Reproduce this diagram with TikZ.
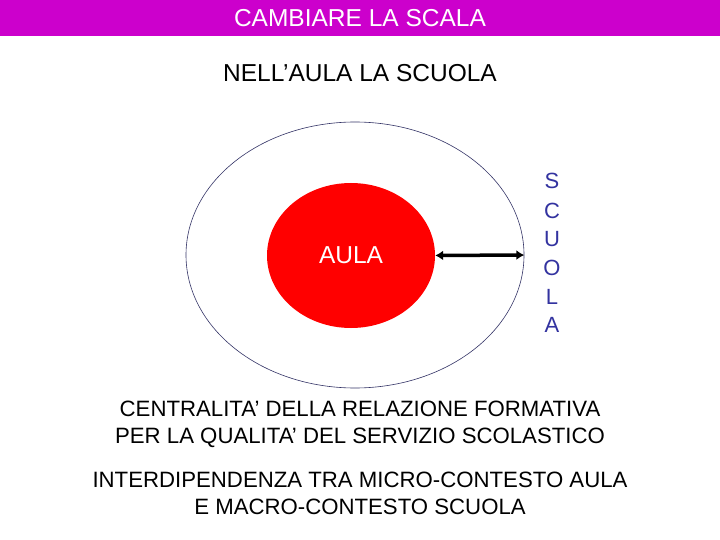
\documentclass[tikz,border=0pt]{standalone}
\usepackage{fontspec}
\setmainfont{Liberation Sans}
\usetikzlibrary{arrows.meta,shapes.geometric}
\definecolor{barpurple}{HTML}{CC00CC}
\definecolor{scuolablue}{HTML}{3333A0}
\definecolor{ringblue}{HTML}{333366}
\begin{document}
\begin{tikzpicture}[x=1pt,y=-1pt,
  txt/.style={font=\fontsize{22.2}{27}\selectfont, align=center, inner sep=0pt},
  big/.style={font=\fontsize{24.5}{27}\selectfont, align=center, inner sep=0pt},
  letter/.style={font=\fontsize{22}{22}\selectfont, text=scuolablue, inner sep=0pt}]
\useasboundingbox (0,0) rectangle (720,540);
\fill[white] (0,0) rectangle (720,540);
\fill[barpurple] (0,0) rectangle (720,36);
\node[big, text=white] (title) at (360,18) {CAMBIARE LA SCALA};
\node[big] (sub) at (360,73) {NELL’AULA LA SCUOLA};
\node[ellipse, draw=ringblue, line width=0.6pt, minimum width=338pt, minimum height=266pt, inner sep=0pt] (outer) at (355,255) {};
\node[ellipse, fill=red, minimum width=168pt, minimum height=145pt, inner sep=0pt] (red) at (351,255.5) {};
\node[big, text=white] (aula) at (351,255) {AULA};
\draw[line width=3.5pt, {Latex[length=8pt,width=10pt]}-{Latex[length=8pt,width=10pt]}] (red.east) -- (outer.east);
\node[letter] (s1) at (552,181) {S};
\node[letter] (s2) at (552,210.5) {C};
\node[letter] (s3) at (552,239.5) {U};
\node[letter] (s4) at (552,268) {O};
\node[letter] (s5) at (552,296.5) {L};
\node[letter] (s6) at (552,325) {A};
\node[txt] (c1) at (360,424.5) {CENTRALITA’ DELLA RELAZIONE FORMATIVA\\PER LA QUALITA’ DEL SERVIZIO SCOLASTICO};
\node[txt] (c2) at (360,493) {INTERDIPENDENZA TRA MICRO-CONTESTO AULA\\E MACRO-CONTESTO SCUOLA};
\end{tikzpicture}
\end{document}
